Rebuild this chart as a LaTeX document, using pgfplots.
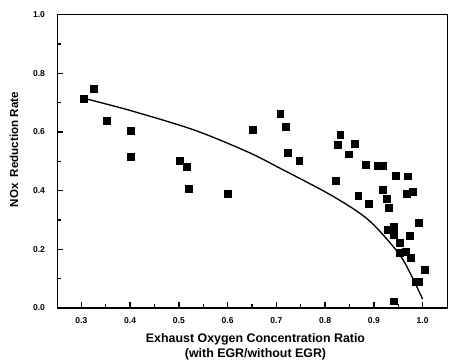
\documentclass[border=0pt]{standalone}
\usepackage{pgfplots}
\pgfplotsset{compat=1.18}
\usepackage{fontspec}
\setmainfont{Liberation Sans}
\begin{document}
\begin{tikzpicture}
\begin{axis}[name=ax, scale only axis, width=292.5pt, height=220pt,
  xmin=0.25, xmax=1.05, ymin=0, ymax=1.0,
  xtick={0.3,0.4,0.5,0.6,0.7,0.8,0.9,1.0},
  minor xtick={0.35,0.45,0.55,0.65,0.75,0.85,0.95},
  ytick={0,0.2,0.4,0.6,0.8,1.0},
  minor ytick={0.1,0.3,0.5,0.7,0.9},
  tick align=inside, tick pos=left,
  major tick length=4.5pt, minor tick length=3pt,
  major tick style={black, line width=1pt},
  minor tick style={black, line width=0.9pt},
  axis line style={line width=0.7pt},
  /pgf/number format/assume math mode=true,
  xticklabel style={/pgf/number format/.cd, fixed, fixed zerofill, precision=1, /tikz/.cd, font=\bfseries\fontsize{6.4}{7}\selectfont, yshift=-3.5pt},
  yticklabel style={/pgf/number format/.cd, fixed, fixed zerofill, precision=1, /tikz/.cd, font=\bfseries\fontsize{6.4}{7}\selectfont, xshift=-5.5pt},
  xlabel={Exhaust Oxygen Concentration Ratio\\(with EGR/without EGR)},
  xlabel style={at={(axis description cs:0.509,0)}, anchor=center, yshift=-29pt, align=center, font=\bfseries\fontsize{9.3}{11.5}\selectfont},
  ylabel={NOx\ \ Reduction Rate},
  ylabel style={at={(axis description cs:-0.11,0.54)}, anchor=center, font=\bfseries\fontsize{8.7}{10}\selectfont},
]
\addplot[only marks, mark=square*, mark size=2.6pt, black] coordinates {
(0.305,0.713) (0.325,0.748) (0.353,0.638) (0.402,0.603) (0.402,0.515)
(0.502,0.501) (0.516,0.481) (0.521,0.406) (0.600,0.391) (0.652,0.607)
(0.708,0.662) (0.719,0.617) (0.724,0.530) (0.747,0.503) (0.822,0.435)
(0.826,0.555) (0.831,0.590) (0.861,0.560) (0.848,0.524) (0.883,0.489)
(0.907,0.484) (0.919,0.484) (0.944,0.452) (0.969,0.449) (0.918,0.402)
(0.868,0.382) (0.889,0.356) (0.927,0.373) (0.930,0.342) (0.968,0.389)
(0.980,0.395) (0.929,0.266) (0.941,0.276) (0.941,0.249) (0.973,0.245)
(0.992,0.291) (0.954,0.223) (0.954,0.189) (0.965,0.192) (0.975,0.172)
(1.004,0.130) (0.985,0.088) (0.993,0.088) (0.940,0.023)
};
\addplot[black, line width=1pt, smooth, no marks] coordinates {
(0.305,0.715) (0.401,0.673) (0.531,0.607) (0.640,0.533) (0.708,0.476)
(0.815,0.382) (0.889,0.300) (0.951,0.186) (0.978,0.107) (1.000,0.030)
};
\draw[line width=1.3pt] (rel axis cs:0,1) -- (rel axis cs:0,0) -- (rel axis cs:1,0);
\draw[line width=1.1pt] (rel axis cs:0,1) -- (rel axis cs:1,1);
\end{axis}
\pgfresetboundingbox
\path ([shift={(-42.75pt,-39.75pt)}]ax.south west) rectangle ([shift={(2.25pt,11pt)}]ax.north east);
\end{tikzpicture}
\end{document}
